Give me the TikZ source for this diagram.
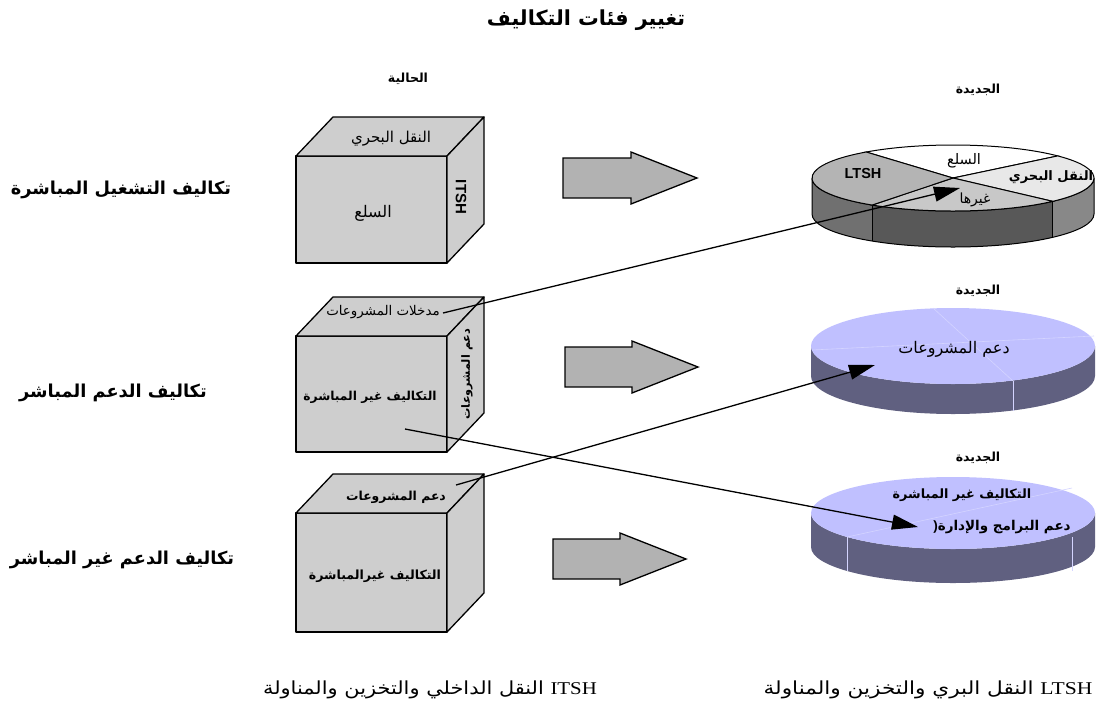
\documentclass[tikz,border=0pt]{standalone}
\usepackage{fontspec}
\setmainfont{Liberation Sans}
\newfontfamily\arabicfont[Script=Arabic]{DejaVu Sans}
\newfontfamily\serifl{Liberation Serif}
\TeXXeTstate=1
\usetikzlibrary{arrows.meta,calc}
\newcommand{\artxt}[1]{{\arabicfont\beginR #1\endR}}
\definecolor{cubegray}{RGB}{206,206,206}
\definecolor{arrgray}{RGB}{178,178,178}
\definecolor{lav}{RGB}{192,192,255}
\definecolor{lavside}{RGB}{96,96,128}
\definecolor{lavline}{RGB}{212,212,255}
\definecolor{slicetop}{RGB}{255,255,255}
\definecolor{sliceright}{RGB}{232,232,232}
\definecolor{slicebottom}{RGB}{200,200,200}
\definecolor{sliceleft}{RGB}{180,180,180}
\definecolor{sideleft}{RGB}{112,112,112}
\definecolor{sidemid}{RGB}{88,88,88}
\definecolor{sideright}{RGB}{136,136,136}
\newcommand{\cubeshape}[3]{%
  \filldraw[cubeface] (#1,#2) rectangle ++(151,#3);
  \filldraw[cubeface] (#1,#2) -- ++(37,-39) -- ++(151,0) -- ++(-37,39) -- cycle;
  \filldraw[cubeface] (#1+151,#2) -- ++(37,-39) -- ++(0,#3) -- ++(-37,39) -- cycle;
}
\newcommand{\blockarrowshape}[3]{%
  \filldraw[blockarrow] (#1,#2-20) -- (#1+#3,#2-20) -- (#1+#3,#2-26) -- (#1+#3+66,#2)
    -- (#1+#3,#2+26) -- (#1+#3,#2+20) -- (#1,#2+20) -- cycle;
}
\newcommand{\sidepath}[5]{(#1-#3,#2) -- (#1-#3,#2+#5) arc[start angle=180,end angle=0,x radius=#3,y radius=#4] -- (#1+#3,#2) arc[start angle=0,end angle=180,x radius=#3,y radius=#4] -- cycle}
\begin{document}
\begin{tikzpicture}[x=1pt,y=-1pt,
  cubeface/.style={fill=cubegray,draw=black,line width=1.3pt,line join=round},
  blockarrow/.style={fill=arrgray,draw=black,line width=1.3pt,line join=miter},
  lbl/.style={inner sep=0pt,outer sep=0pt},
  b12/.style={lbl,font=\bfseries\fontsize{12.3}{14}\selectfont},
  hdr/.style={lbl,font=\bfseries\fontsize{12.5}{14}\selectfont},
  r14/.style={lbl,font=\fontsize{15}{17}\selectfont},
  b16/.style={lbl,font=\bfseries\fontsize{17.8}{20}\selectfont},
  note/.style={lbl,font=\fontsize{18}{20}\selectfont},
  conn/.style={line width=1.3pt,-{Triangle[length=26pt,width=15pt]}},
  faint/.style={draw=lavline,line width=0.6pt}
]
\useasboundingbox (0,0) rectangle (1096,713);

% title and headers
\node[lbl,font=\bfseries\fontsize{20.7}{24}\selectfont] (title) at (586,20) {\artxt{تغيير فئات التكاليف}};
\node[hdr] (cur) at (408,79) {\artxt{الحالية}};
\node[hdr] (new1) at (978,90) {\artxt{الجديدة}};
\node[hdr] (new2) at (978,291) {\artxt{الجديدة}};
\node[hdr] (new3) at (978,458) {\artxt{الجديدة}};

% row labels
\node[b16] (row1) at (121,190) {\artxt{تكاليف التشغيل المباشرة}};
\node[b16] (row2) at (113,393) {\artxt{تكاليف الدعم المباشر}};
\node[b16] (row3) at (122,560) {\artxt{تكاليف الدعم غير المباشر}};

% cubes
\cubeshape{296}{156}{107}
\cubeshape{296}{336}{116}
\cubeshape{296}{513}{119}

\node[r14] (c1top) at (391,139) {\artxt{النقل البحري}};
\node[lbl,font=\fontsize{16}{18}\selectfont] (c1front) at (373,213) {\artxt{السلع}};
\node[lbl,font=\bfseries\fontsize{15}{17}\selectfont,rotate=-90] (c1side) at (461,197) {ITSH};
\node[lbl,font=\fontsize{13.4}{15}\selectfont] (c2top) at (383,312) {\artxt{مدخلات المشروعات}};
\node[lbl,font=\bfseries\fontsize{11.3}{13}\selectfont,rotate=90] (c2side) at (467,374) {\artxt{دعم المشروعات}};
\node[b12] (c2front) at (370,397) {\artxt{التكاليف غير المباشرة}};
\node[lbl,font=\bfseries\fontsize{12.4}{14}\selectfont] (c3top) at (396,497) {\artxt{دعم المشروعات}};
\node[lbl,font=\bfseries\fontsize{12.6}{14}\selectfont] (c3front) at (375,576) {\artxt{التكاليف غيرالمباشرة}};

% block arrows
\blockarrowshape{563}{178}{68}
\blockarrowshape{565}{367}{67}
\blockarrowshape{553}{559}{67}

% pie 1
\begin{scope}
  \clip (800,0) rectangle (872,713);
  \fill[sideleft] \sidepath{953}{178}{141}{33}{36};
\end{scope}
\begin{scope}
  \clip (872,0) rectangle (1053,713);
  \fill[sidemid] \sidepath{953}{178}{141}{33}{36};
\end{scope}
\begin{scope}
  \clip (1053,0) rectangle (1100,713);
  \fill[sideright] \sidepath{953}{178}{141}{33}{36};
\end{scope}
\draw[line width=1pt,line join=round] \sidepath{953}{178}{141}{33}{36};
\draw[line width=1pt] ($(953,178)+(125:141 and 33)$) -- ++(0,36);
\draw[line width=1pt] ($(953,178)+(45:141 and 33)$) -- ++(0,36);
\filldraw[fill=slicetop,draw=black,line width=1pt] (953,178) -- ($(953,178)+(232:141 and 33)$) arc[start angle=232,end angle=318,x radius=141,y radius=33] -- cycle;
\filldraw[fill=sliceright,draw=black,line width=1pt] (953,178) -- ($(953,178)+(318:141 and 33)$) arc[start angle=318,end angle=405,x radius=141,y radius=33] -- cycle;
\filldraw[fill=slicebottom,draw=black,line width=1pt] (953,178) -- ($(953,178)+(45:141 and 33)$) arc[start angle=45,end angle=125,x radius=141,y radius=33] -- cycle;
\filldraw[fill=sliceleft,draw=black,line width=1pt] (953,178) -- ($(953,178)+(125:141 and 33)$) arc[start angle=125,end angle=232,x radius=141,y radius=33] -- cycle;
\node[lbl,font=\bfseries\fontsize{14.5}{16}\selectfont] (p1a) at (863,174) {LTSH};
\node[lbl,font=\fontsize{14.5}{16}\selectfont] (p1b) at (964,161) {\artxt{السلع}};
\node[lbl,font=\bfseries\fontsize{13}{15}\selectfont] (p1c) at (1051,177) {\artxt{النقل البحري}};
\node[lbl,font=\fontsize{14}{16}\selectfont] (p1d) at (975,200) {\artxt{غيرها}};

% pie 2
\fill[lavside] \sidepath{953}{346}{142}{38}{30};
\fill[lav] (953,346) ellipse [x radius=142,y radius=38];
\draw[faint] (933,308) -- (1013,381);
\draw[faint] (812,350) -- (1094,336);
\draw[faint] (1013,381) -- ++(0,30);
\node[lbl,font=\fontsize{16}{18}\selectfont] (p2a) at (954,349) {\artxt{دعم المشروعات}};

% pie 3
\fill[lavside] \sidepath{953}{513}{142}{36}{34};
\fill[lav] (953,513) ellipse [x radius=142,y radius=36];
\draw[faint] (847,537) -- (1072,488);
\draw[faint] (847,537) -- ++(0,34);
\draw[faint] (1072,537) -- ++(0,34);
\node[lbl,font=\bfseries\fontsize{12.8}{15}\selectfont] (p3a) at (962,495) {\artxt{التكاليف غير المباشرة}};
\node[lbl,font=\bfseries\fontsize{13.5}{15}\selectfont] (p3b) at (1002,527) {)\artxt{دعم البرامج والإدارة}};

% bottom notes
\node[note] (noteL) at (928,690) {\scalebox{1.2}[1]{\arabicfont\beginR\beginL{\serifl LTSH}\endL{} النقل البري والتخزين والمناولة\endR}};
\node[note] (noteI) at (430,690) {\scalebox{1.16}[1]{\arabicfont\beginR\beginL{\serifl ITSH}\endL{} النقل الداخلي والتخزين والمناولة\endR}};

% connectors
\coordinate (s1) at (443,313);
\coordinate (t1) at (960,188);
\coordinate (s2) at (456,485);
\coordinate (t2) at (875,365);
\coordinate (s3) at (405,429);
\coordinate (t3) at (918,527);
\draw[conn] (s1) -- (t1);
\draw[conn] (s2) -- (t2);
\draw[conn] (s3) -- (t3);
\end{tikzpicture}
\end{document}
